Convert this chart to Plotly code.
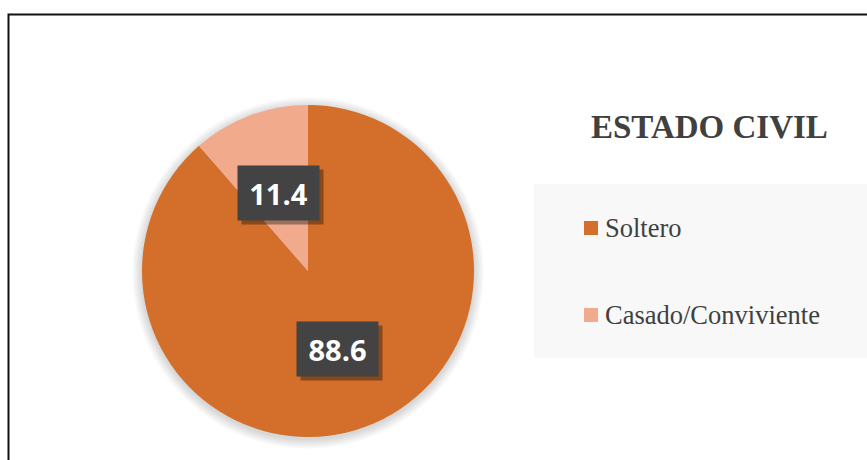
import math
import plotly.graph_objects as go

# ---- data ----
categories = ["Soltero", "Casado/Conviviente"]
values = [88.6, 11.4]
value_labels = ["88.6", "11.4"]
colors = ["#D36F2B", "#F2AA8D"]
title_text = "ESTADO CIVIL"

W, H = 867, 460
CX, CY, R = 308, 271, 166  # pie center/radius in pixels


def px(x):
    return x / W


def py(y):
    return 1 - y / H


fig = go.Figure()
fig.add_trace(go.Pie(
    labels=categories,
    values=values,
    marker=dict(colors=colors, line=dict(width=0)),
    sort=False,
    direction="clockwise",
    rotation=0,
    textinfo="none",
    hoverinfo="label+value",
    showlegend=False,
    domain=dict(x=[px(CX - R), px(CX + R)], y=[py(CY + R), py(CY - R)]),
))

shapes = []
# outer chart border
shapes.append(dict(type="rect", xref="paper", yref="paper",
                   x0=px(8.5), x1=1.02, y0=-0.02, y1=py(14.5),
                   line=dict(color="#111111", width=2), fillcolor="rgba(0,0,0,0)",
                   layer="below"))
# soft pie shadow
for k in range(10, 0, -1):
    shapes.append(dict(type="circle", xref="paper", yref="paper",
                       x0=px(CX - R - k), x1=px(CX + R + k),
                       y0=py(CY + 2 + R + k), y1=py(CY + 2 - R - k),
                       line=dict(width=0), fillcolor="rgba(0,0,0,0.015)",
                       layer="below"))
# legend background box
shapes.append(dict(type="rect", xref="paper", yref="paper",
                   x0=px(534), x1=1.0, y0=py(358), y1=py(184),
                   line=dict(width=0), fillcolor="#F8F8F8", layer="below"))

annotations = []
# title
annotations.append(dict(text="<b>" + title_text + "</b>", xref="paper", yref="paper",
                        x=px(709), y=py(127), xanchor="center", yanchor="middle",
                        showarrow=False,
                        font=dict(family="Liberation Serif", size=33, color="#404040")))

# manual legend
leg_y = [228, 315]
for cat, col, yy in zip(categories, colors, leg_y):
    shapes.append(dict(type="rect", xref="paper", yref="paper",
                       x0=px(584), x1=px(598), y0=py(yy + 7), y1=py(yy - 7),
                       line=dict(width=0), fillcolor=col, layer="above"))
    annotations.append(dict(text=cat, xref="paper", yref="paper",
                            x=px(603), y=py(yy), xanchor="left", yanchor="middle",
                            showarrow=False,
                            font=dict(family="Liberation Serif", size=26.5, color="#404040")))

# data labels at half radius on slice mid-angles
total = sum(values)
cum = 0.0
for v, lab in zip(values, value_labels):
    mid = (cum + v / 2) / total * 2 * math.pi
    cum += v
    lx = CX + 0.5 * R * math.sin(mid)
    ly = CY - 0.5 * R * math.cos(mid)
    # shadow
    annotations.append(dict(text=" ", xref="paper", yref="paper",
                            x=px(lx), y=py(ly), xanchor="center", yanchor="middle",
                            xshift=4, yshift=-4, showarrow=False,
                            width=81, height=54, borderpad=0,
                            bgcolor="rgba(0,0,0,0.35)"))
    annotations.append(dict(text="<b>" + lab + "</b>", xref="paper", yref="paper",
                            x=px(lx), y=py(ly), xanchor="center", yanchor="middle",
                            showarrow=False, width=81, height=54, borderpad=0,
                            bgcolor="#434343",
                            font=dict(family="Open Sans", size=29, color="#FFFFFF")))

fig.update_layout(
    width=W, height=H,
    margin=dict(l=0, r=0, t=0, b=0),
    paper_bgcolor="#FFFFFF",
    plot_bgcolor="#FFFFFF",
    shapes=shapes,
    annotations=annotations,
    showlegend=False,
)

fig.write_html("out.html",
               config={"displayModeBar": False},
               post_script="document.body.style.margin='0px';document.body.style.overflow='hidden';")
